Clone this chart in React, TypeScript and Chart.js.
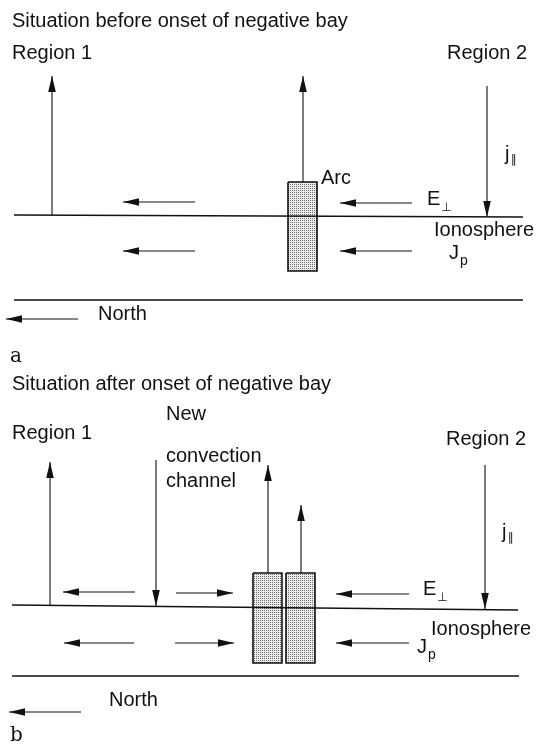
import React, { useEffect, useRef } from "react";
import { Chart, registerables } from "chart.js";

Chart.register(...registerables);

// ---------- Diagram data (diagram units: x 0..540, y 0..744, y downward) ----------
const titlesText = ["Situation before onset of negative bay", "Situation after onset of negative bay"];

// field-aligned currents: [x, startY, tipY]
const currentsA: number[][] = [
  [52, 215, 76],
  [303, 182, 76],
  [487, 86, 217],
];
const currentsB: number[][] = [
  [50, 605, 462],
  [156, 460, 606],
  [268, 573, 465],
  [301, 573, 505],
  [485, 465, 609],
];

// horizontal E / Jp arrows: [tailX, tipX, y]
const flowsA: number[][] = [
  [195, 123, 202],
  [412, 340, 203],
  [195, 123, 251],
  [412, 340, 251],
];
const flowsB: number[][] = [
  [135, 63, 592],
  [176, 233, 593],
  [409, 336, 594],
  [134, 64, 643],
  [175, 234, 643],
  [409, 336, 643],
];

// north direction arrows: [tailX, tipX, y]
const northArrows: number[][] = [
  [78, 6, 319],
  [81, 9, 712],
];

// ionosphere lines and lower boundary lines: [x1, y1, x2, y2]
const ionosphereLines: number[][] = [
  [14, 215, 523, 217],
  [12, 605, 518, 610],
];
const boundaryLines: number[][] = [
  [14, 300, 523, 300],
  [12, 676, 519, 676],
];

// arc boxes: [x1, y1, x2, y2]
const arcBoxes: number[][] = [
  [288, 182, 317, 271],
  [253, 573, 282, 663],
  [286, 573, 315, 663],
];

// plain labels: [text, x, baselineY]
const labels: [string, number, number][] = [
  [titlesText[0], 12, 27],
  ["Region 1", 12, 59],
  ["Region 2", 447, 59],
  ["Arc", 321, 184],
  ["Ionosphere", 434, 236],
  ["North", 98, 320],
  [titlesText[1], 12, 390],
  ["Region 1", 12, 439],
  ["New", 166, 420],
  ["convection", 166, 462],
  ["channel", 166, 487],
  ["Region 2", 446, 445],
  ["Ionosphere", 431, 635],
  ["North", 109, 706],
];

// subscripted labels: [main, sub, x, baselineY]
const subLabels: [string, string, number, number][] = [
  ["E", "⊥", 427, 205],
  ["J", "p", 449, 259],
  ["j", "∥", 505, 160],
  ["E", "⊥", 423, 595],
  ["J", "p", 417, 653],
  ["j", "∥", 502, 538],
];

// panel letters: [text, x, baselineY]
const panelLetters: [string, number, number][] = [
  ["a", 10, 362],
  ["b", 10, 741],
];

const INK = "#111";
const SANS = "'Liberation Sans', Arial, Helvetica, sans-serif";
const SERIF = "'DejaVu Serif', 'Liberation Serif', serif";

function makePattern(ctx: CanvasRenderingContext2D): CanvasPattern | string {
  const tile = document.createElement("canvas");
  tile.width = 2;
  tile.height = 2;
  const t = tile.getContext("2d");
  if (!t) return "#ccc";
  t.fillStyle = "#ececec";
  t.fillRect(0, 0, 2, 2);
  t.fillStyle = "#6e6e6e";
  t.fillRect(0, 0, 1, 1);
  const p = ctx.createPattern(tile, "repeat");
  return p || "#ccc";
}

const decorPlugin = {
  id: "diagramDecor",
  afterDatasetsDraw(chart: any) {
    const ctx: CanvasRenderingContext2D = chart.ctx;
    chart.data.datasets.forEach((ds: any, i: number) => {
      if (!ds.arrow) return;
      const meta = chart.getDatasetMeta(i);
      const pts = meta.data;
      if (pts.length < 2) return;
      const tip = pts[pts.length - 1];
      const prev = pts[pts.length - 2];
      const ang = Math.atan2(tip.y - prev.y, tip.x - prev.x);
      const len = 16;
      const hw = 3.8;
      ctx.save();
      ctx.fillStyle = INK;
      ctx.beginPath();
      ctx.moveTo(tip.x, tip.y);
      ctx.lineTo(
        tip.x - len * Math.cos(ang) + hw * Math.sin(ang),
        tip.y - len * Math.sin(ang) - hw * Math.cos(ang)
      );
      ctx.lineTo(
        tip.x - len * Math.cos(ang) - hw * Math.sin(ang),
        tip.y - len * Math.sin(ang) + hw * Math.cos(ang)
      );
      ctx.closePath();
      ctx.fill();
      ctx.restore();
    });
  },
  afterDraw(chart: any) {
    const ctx: CanvasRenderingContext2D = chart.ctx;
    const sx = chart.scales.x;
    const sy = chart.scales.y;
    ctx.save();
    ctx.fillStyle = INK;
    ctx.textBaseline = "alphabetic";
    ctx.textAlign = "left";
    ctx.font = `20px ${SANS}`;
    labels.forEach(([t, x, y]) => {
      ctx.fillText(t, sx.getPixelForValue(x), sy.getPixelForValue(y));
    });
    subLabels.forEach(([m, s, x, y]) => {
      const px = sx.getPixelForValue(x);
      const py = sy.getPixelForValue(y);
      ctx.font = `20px ${SANS}`;
      ctx.fillText(m, px, py);
      const w = ctx.measureText(m).width;
      if (s === "∥") {
        ctx.font = `12px 'DejaVu Sans', sans-serif`;
        ctx.fillText(s, px + w + 1, py + 3);
      } else if (s === "⊥") {
        ctx.font = `12px 'DejaVu Sans', sans-serif`;
        ctx.fillText(s, px + w + 1, py + 6);
      } else {
        ctx.font = `14px ${SANS}`;
        ctx.fillText(s, px + w + 1, py + 6);
      }
    });
    ctx.font = `20px ${SERIF}`;
    panelLetters.forEach(([t, x, y]) => {
      ctx.fillText(t, sx.getPixelForValue(x), sy.getPixelForValue(y));
    });
    ctx.restore();
  },
};

function buildDatasets(pattern: CanvasPattern | string) {
  const ds: any[] = [];
  const lineBase = {
    borderColor: INK,
    pointRadius: 0,
    pointHoverRadius: 0,
    fill: false,
    tension: 0,
    order: 0,
  };
  arcBoxes.forEach(([x1, y1, x2, y2]) => {
    ds.push({
      ...lineBase,
      data: [
        { x: x1, y: y1 },
        { x: x2, y: y1 },
        { x: x2, y: y2 },
        { x: x1, y: y2 },
        { x: x1, y: y1 },
      ],
      borderWidth: 1.6,
      backgroundColor: pattern,
      fill: "shape",
      order: 5,
    });
  });
  [...ionosphereLines, ...boundaryLines].forEach(([x1, y1, x2, y2]) => {
    ds.push({
      ...lineBase,
      data: [
        { x: x1, y: y1 },
        { x: x2, y: y2 },
      ],
      borderWidth: 1.5,
    });
  });
  [...currentsA, ...currentsB].forEach(([x, y0, y1]) => {
    ds.push({
      ...lineBase,
      data: [
        { x, y: y0 },
        { x, y: y1 },
      ],
      borderWidth: 1.1,
      arrow: true,
    });
  });
  [...flowsA, ...flowsB, ...northArrows].forEach(([x0, x1, y]) => {
    ds.push({
      ...lineBase,
      data: [
        { x: x0, y },
        { x: x1, y },
      ],
      borderWidth: 1.1,
      arrow: true,
    });
  });
  return ds;
}

export default function App() {
  const canvasRef = useRef<HTMLCanvasElement | null>(null);

  useEffect(() => {
    const canvas = canvasRef.current;
    if (!canvas) return;
    const ctx = canvas.getContext("2d");
    if (!ctx) return;
    const pattern = makePattern(ctx);
    const chart = new Chart(canvas, {
      type: "line",
      data: { datasets: buildDatasets(pattern) },
      options: {
        animation: false,
        responsive: false,
        maintainAspectRatio: false,
        devicePixelRatio: 1,
        events: [],
        layout: { padding: 0 },
        plugins: {
          legend: { display: false },
          tooltip: { enabled: false },
          title: { display: false },
        },
        scales: {
          x: { type: "linear", min: 0, max: 540, display: false },
          y: { type: "linear", min: 0, max: 744, reverse: true, display: false },
        },
      },
      plugins: [decorPlugin],
    } as any);
    return () => chart.destroy();
  }, []);

  return (
    <div
      style={{
        position: "absolute",
        left: 0,
        top: 0,
        width: 540,
        height: 744,
        background: "#fff",
      }}
    >
      <canvas ref={canvasRef} width={540} height={744} style={{ display: "block" }} />
    </div>
  );
}
